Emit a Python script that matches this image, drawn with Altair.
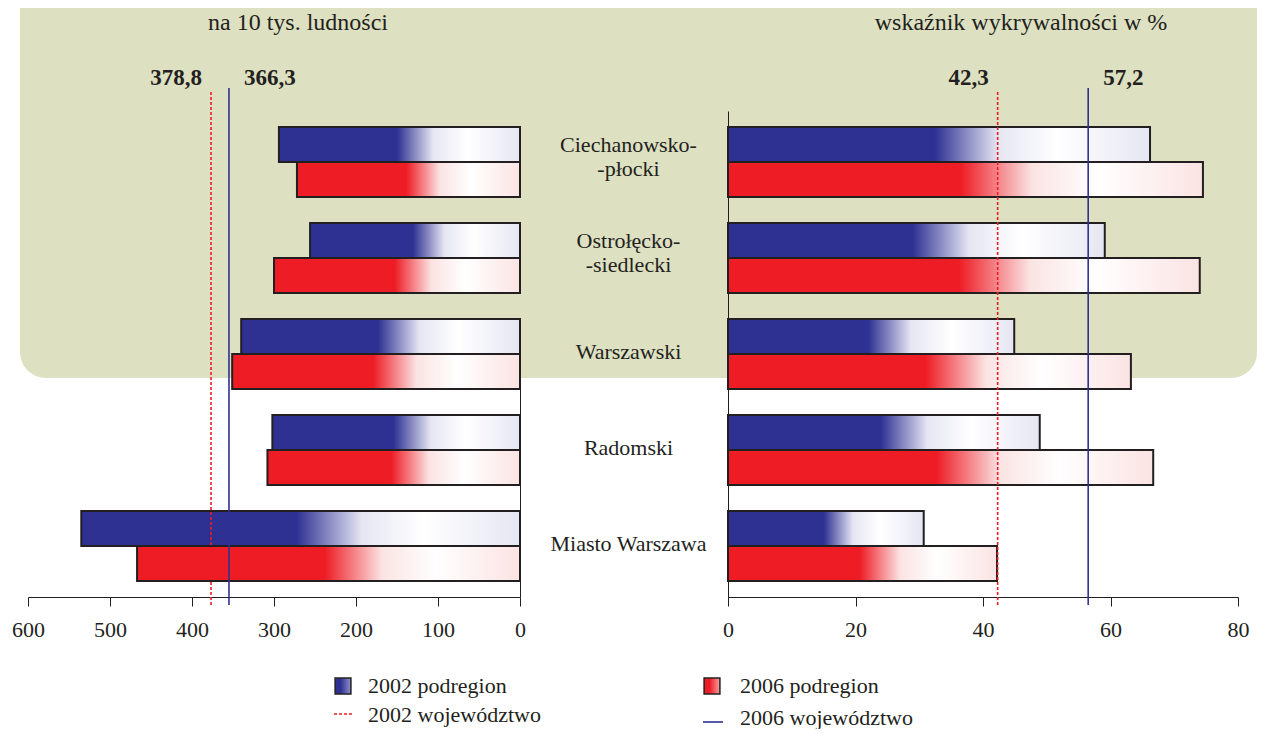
import altair as alt
import pandas as pd

# ---------------- data ----------------
regions = ["Ciechanowsko-|-płocki", "Ostrołęcko-|-siedlecki", "Warszawski", "Radomski", "Miasto Warszawa"]
years = ["2002", "2006"]
crime_2002 = [294, 256, 340, 302, 535]
crime_2006 = [272, 300, 351, 308, 467]
detect_2002 = [66.2, 59.1, 44.9, 48.9, 30.7]
detect_2006 = [74.5, 74.0, 63.2, 66.7, 42.2]
crime_voiv = [376.8, 354.9]          # 2002, 2006 voivodeship lines
detect_voiv = [42.3, 56.5]
crime_voiv_labels = ["378,8", "366,3"]
detect_voiv_labels = ["42,3", "57,2"]
left_ticks = [0, 100, 200, 300, 400, 500, 600]
right_ticks = [0, 20, 40, 60, 80]
title_left = "na 10 tys. ludności"
title_right = "wskaźnik wykrywalności w %"
legend_labels = ["2002 podregion", "2002 województwo", "2006 podregion", "2006 województwo"]

rows = []
for i, r in enumerate(regions):
    rows.append({"region": r, "year": "2002", "crime": crime_2002[i], "detect": detect_2002[i]})
    rows.append({"region": r, "year": "2006", "crime": crime_2006[i], "detect": detect_2006[i]})
bars = pd.DataFrame(rows)
voiv = pd.DataFrame({"year": years, "crime": crime_voiv, "detect": detect_voiv,
                     "clab": crime_voiv_labels, "dlab": detect_voiv_labels})
one = pd.DataFrame({"a": [0]})

# ---------------- style ----------------
FONT = "Liberation Serif"
FS = 22
FS_T = 24
FS_B = 23
INK = "#231f20"
BLUE = "#2e3192"
RED = "#ee1c25"
GREEN = "#dde0c1"
W_L, W_R, H = 492, 510, 486
SPACING = 208


def grad(color, light):
    return alt.Gradient(
        gradient="linear", x1=0, x2=1, y1=0, y2=0,
        stops=[alt.GradientStop(color=color, offset=0),
               alt.GradientStop(color=color, offset=0.49),
               alt.GradientStop(color=light, offset=0.64),
               alt.GradientStop(color="#ffffff", offset=0.78),
               alt.GradientStop(color=light, offset=1)])


def legend_grad(color, light):
    return alt.Gradient(
        gradient="linear", x1=0, x2=1, y1=0, y2=0,
        stops=[alt.GradientStop(color=color, offset=0),
               alt.GradientStop(color=color, offset=0.35),
               alt.GradientStop(color=light, offset=1)])


BLUE_G = grad(BLUE, "#e6e6f3")
RED_G = grad(RED, "#fbe3e3")

y_scale = alt.Scale(domain=regions, paddingInner=0.27, paddingOuter=0.167)
yoff = alt.YOffset("year:N", sort=years, scale=alt.Scale(domain=years, paddingInner=0, paddingOuter=0))


def bar_layers(xenc_fn, yaxis):
    out = []
    for yr, g in zip(years, [BLUE_G, RED_G]):
        out.append(
            alt.Chart(bars).transform_filter(alt.datum.year == yr)
            .mark_bar(fill=g, stroke=INK, strokeWidth=2)
            .encode(x=xenc_fn(), y=alt.Y("region:N", scale=y_scale, axis=yaxis, title=None), yOffset=yoff)
        )
    return out


def rule_layers(xenc_fn, lab_field):
    out = []
    base = alt.Chart(voiv)
    out.append(base.transform_filter(alt.datum.year == "2002")
               .mark_rule(color=RED, strokeWidth=1.6, strokeDash=[3, 2])
               .encode(x=xenc_fn(), y=alt.value(-19), y2=alt.value(H + 8)))
    out.append(base.transform_filter(alt.datum.year == "2006")
               .mark_rule(color=BLUE, strokeWidth=1.6)
               .encode(x=xenc_fn(), y=alt.value(-23), y2=alt.value(H + 8)))
    out.append(base.transform_filter(alt.datum.year == "2002")
               .mark_text(font=FONT, fontSize=FS_B, fontWeight="bold", color=INK, align="right", dx=-9,
                          baseline="middle")
               .encode(x=xenc_fn(), y=alt.value(-33), text=f"{lab_field}:N"))
    out.append(base.transform_filter(alt.datum.year == "2006")
               .mark_text(font=FONT, fontSize=FS_B, fontWeight="bold", color=INK, align="left", dx=15,
                          baseline="middle")
               .encode(x=xenc_fn(), y=alt.value(-33), text=f"{lab_field}:N"))
    return out


def x_left():
    return alt.X("crime:Q", scale=alt.Scale(domain=[0, 600], reverse=True),
                 axis=alt.Axis(values=left_ticks, grid=False, tickSize=9, labelPadding=13, title=None,
                               labelFont=FONT, labelFontSize=FS, labelColor=INK, domainColor=INK,
                               tickColor=INK, labelFlush=False))


def x_right():
    return alt.X("detect:Q", scale=alt.Scale(domain=[0, 80]),
                 axis=alt.Axis(values=right_ticks, grid=False, tickSize=9, labelPadding=13, title=None,
                               labelFont=FONT, labelFontSize=FS, labelColor=INK, domainColor=INK,
                               tickColor=INK, labelFlush=False))


left_yaxis = alt.Axis(orient="right", labels=False, ticks=False, domain=True, domainColor=INK, title=None)
right_yaxis = alt.Axis(orient="left", labels=True, ticks=False, tickSize=0, domain=True, domainColor=INK,
                       labelAlign="center", labelBaseline="middle", labelPadding=100,
                       labelOffset={"condition": {"test": "indexof(datum.value, '|') >= 0", "value": -17},
                                    "value": -2},
                       labelExpr="split(datum.label, '|')", labelLineHeight=24, labelLimit=400,
                       labelOverlap=False, labelFont=FONT, labelFontSize=FS, labelColor=INK, title=None)

# background panel
bg = alt.Chart(one).mark_rect(color=GREEN, cornerRadiusBottomLeft=26, cornerRadiusBottomRight=26).encode(
    x=alt.value(-8), x2=alt.value(1229), y=alt.value(-103), y2=alt.value(267))

t_left = alt.Chart(one).mark_text(font=FONT, fontSize=FS_T, color=INK, baseline="middle").encode(
    x=alt.value(270), y=alt.value(-88), text=alt.value(title_left))
t_right = alt.Chart(one).mark_text(font=FONT, fontSize=FS_T, color=INK, baseline="middle").encode(
    x=alt.value(293), y=alt.value(-88), text=alt.value(title_right))

# legend (custom, left column in left panel, right column in right panel)
leg_sq_blue = alt.Chart(one).mark_square(size=250, fill=legend_grad(BLUE, "#8f91cc"), stroke=INK,
                                         strokeWidth=1.5, opacity=1).encode(x=alt.value(315), y=alt.value(575))
leg_t1 = alt.Chart(one).mark_text(font=FONT, fontSize=FS, color=INK, align="left", baseline="middle").encode(
    x=alt.value(340), y=alt.value(575), text=alt.value(legend_labels[0]))
leg_rule_red = alt.Chart(one).mark_rule(color=RED, strokeWidth=1.6, strokeDash=[3, 2]).encode(
    x=alt.value(306), x2=alt.value(326), y=alt.value(603))
leg_t2 = alt.Chart(one).mark_text(font=FONT, fontSize=FS, color=INK, align="left", baseline="middle").encode(
    x=alt.value(340), y=alt.value(604), text=alt.value(legend_labels[1]))

leg_sq_red = alt.Chart(one).mark_square(size=250, fill=legend_grad(RED, "#f7a0a0"), stroke=INK,
                                        strokeWidth=1.5, opacity=1).encode(x=alt.value(-16), y=alt.value(575))
leg_t3 = alt.Chart(one).mark_text(font=FONT, fontSize=FS, color=INK, align="left", baseline="middle").encode(
    x=alt.value(12), y=alt.value(575), text=alt.value(legend_labels[2]))
leg_rule_blue = alt.Chart(one).mark_rule(color=BLUE, strokeWidth=1.6).encode(
    x=alt.value(-25), x2=alt.value(-5), y=alt.value(611))
leg_t4 = alt.Chart(one).mark_text(font=FONT, fontSize=FS, color=INK, align="left", baseline="middle").encode(
    x=alt.value(12), y=alt.value(607), text=alt.value(legend_labels[3]))

left = alt.layer(
    bg, t_left,
    *bar_layers(x_left, left_yaxis),
    *rule_layers(x_left, "clab"),
    leg_sq_blue, leg_t1, leg_rule_red, leg_t2,
).properties(width=W_L, height=H)

right = alt.layer(
    t_right,
    *bar_layers(x_right, right_yaxis),
    *rule_layers(x_right, "dlab"),
    leg_sq_red, leg_t3, leg_rule_blue, leg_t4,
).properties(width=W_R, height=H)

chart = alt.hconcat(left, right, spacing=SPACING, bounds="flush").configure_view(stroke=None).properties(
    padding={"left": 3, "top": 0, "right": 0, "bottom": 0}, background="white")

chart.save("out.html", embed_options={"renderer": "svg", "actions": False})
